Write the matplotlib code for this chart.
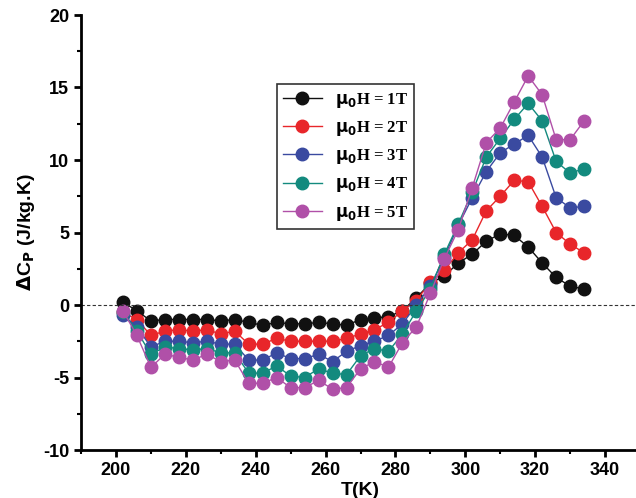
import matplotlib
matplotlib.use("Agg")
import matplotlib.pyplot as plt
import numpy as np

T = np.arange(202, 335, 4)
h1 = [0.2, -0.4, -1.1, -1.0, -1.0, -1.0, -1.0, -1.1, -1.0, -1.2, -1.4, -1.2, -1.3, -1.3, -1.2, -1.3, -1.4,
      -1.0, -0.9, -0.8, -0.4, 0.5, 1.5, 2.0, 2.9, 3.5, 4.4, 4.9, 4.8, 4.0, 2.9, 1.9, 1.3, 1.1]
h2 = [-0.5, -1.0, -2.1, -1.8, -1.7, -1.8, -1.7, -2.0, -1.8, -2.7, -2.7, -2.3, -2.5, -2.5, -2.5, -2.5, -2.3,
      -2.0, -1.7, -1.2, -0.4, 0.3, 1.6, 2.4, 3.6, 4.5, 6.5, 7.5, 8.6, 8.5, 6.8, 5.0, 4.2, 3.6]
h3 = [-0.7, -1.5, -2.9, -2.5, -2.5, -2.6, -2.5, -2.7, -2.7, -3.8, -3.8, -3.3, -3.7, -3.7, -3.4, -3.9, -3.2,
      -2.8, -2.5, -2.1, -1.3, 0.0, 1.3, 3.3, 5.5, 7.4, 9.2, 10.5, 11.1, 11.7, 10.2, 7.4, 6.7, 6.8]
h4 = [-0.5, -1.8, -3.4, -2.9, -3.0, -3.1, -3.0, -3.3, -3.3, -4.7, -4.7, -4.2, -4.9, -5.0, -4.4, -4.7, -4.8,
      -3.5, -3.0, -3.2, -2.0, -0.4, 1.1, 3.5, 5.6, 7.8, 10.2, 11.5, 12.8, 13.9, 12.7, 9.9, 9.1, 9.4]
h5 = [-0.4, -2.1, -4.3, -3.4, -3.6, -3.8, -3.4, -3.9, -3.8, -5.4, -5.4, -5.0, -5.7, -5.7, -5.2, -5.8, -5.7,
      -4.4, -3.9, -4.3, -2.6, -1.5, 0.8, 3.2, 5.2, 8.1, 11.2, 12.2, 14.0, 15.8, 14.5, 11.4, 11.4, 12.7]
series = [h1, h2, h3, h4, h5]
labels = [r"$\mathbf{\mu_0}$H = 1T", r"$\mathbf{\mu_0}$H = 2T", r"$\mathbf{\mu_0}$H = 3T",
          r"$\mathbf{\mu_0}$H = 4T", r"$\mathbf{\mu_0}$H = 5T"]
colors = ["#111111", "#e8262a", "#3a4aa0", "#138a7e", "#b050a8"]

plt.rcParams['font.family'] = ['Liberation Sans', 'DejaVu Sans']
plt.rcParams['font.weight'] = 'bold'
plt.rcParams['mathtext.default'] = 'bf'
plt.rcParams['axes.unicode_minus'] = False

fig = plt.figure(figsize=(6.36, 4.98), dpi=100)
ax = fig.add_axes([81/636, 48/498, 559/636, 435/498])

for y, c, l in zip(series, colors, labels):
    ax.plot(T, y, '-o', color=c, lw=1, ms=9, mfc=c, mec=c, label=l)

ax.axhline(0, color='#333333', ls='--', lw=0.8, dashes=(3, 2))

ax.set_xlim(190, 350)
ax.set_ylim(-10, 20)
ax.set_xticks(np.arange(200, 341, 20))
ax.set_yticks(np.arange(-10, 21, 5))
ax.set_xticks(np.arange(190, 350, 10), minor=True)
ax.set_yticks(np.arange(-7.5, 20, 5), minor=True)
ax.spines['top'].set_visible(False)
ax.spines['right'].set_visible(False)
ax.spines['left'].set_linewidth(2)
ax.spines['bottom'].set_linewidth(2)
ax.tick_params(width=2, length=5, labelsize=13)
ax.tick_params(which='minor', width=1.5, length=3)
ax.set_xlabel("T(K)", fontsize=14, fontweight='bold', labelpad=2)
ax.set_ylabel(r"$\Delta$C$_P$ (J/kg.K)", fontsize=14, fontweight='bold')

leg = ax.legend(loc='upper left', bbox_to_anchor=(0.335, 0.86), frameon=True,
                fancybox=False, edgecolor='black', handlelength=2.3, borderpad=0.4, labelspacing=0.55,
                prop={'family': ['Liberation Serif'], 'weight': 'bold', 'size': 12})
leg.get_frame().set_linewidth(1.2)

fig.savefig("out.png", dpi=100)
